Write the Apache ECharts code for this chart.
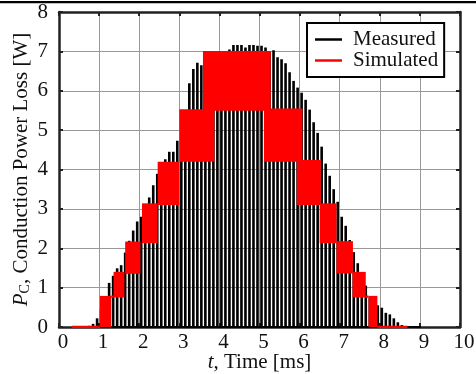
<!DOCTYPE html>
<html>
<head>
<meta charset="utf-8">
<script src="https://cdn.jsdelivr.net/npm/echarts@6/dist/echarts.min.js"></script>
<style>
  html, body { margin: 0; padding: 0; background: #fff; }
  #chart { width: 476px; height: 374px; }
</style>
</head>
<body>
<div id="chart"></div>
<script>
// measured PWM pulses: centre time [ms] and pulse height [W]
const measTime = [
  0.75, 0.85, 0.95, 1.05, 1.15, 1.25, 1.35, 1.45, 1.55, 1.65,
  1.75, 1.85, 1.95, 2.05, 2.15, 2.25, 2.35, 2.45, 2.55, 2.65,
  2.75, 2.85, 2.95, 3.05, 3.15, 3.25, 3.35, 3.45, 3.55, 3.65,
  3.75, 3.85, 3.95, 4.05, 4.15, 4.25, 4.35, 4.45, 4.55, 4.65,
  4.75, 4.85, 4.95, 5.05, 5.15, 5.25, 5.35, 5.45, 5.55, 5.65,
  5.75, 5.85, 5.95, 6.05, 6.15, 6.25, 6.35, 6.45, 6.55, 6.65,
  6.75, 6.85, 6.95, 7.05, 7.15, 7.25, 7.35, 7.45, 7.55, 7.65,
  7.75, 7.85, 7.95, 8.05, 8.15, 8.25, 8.35, 8.45, 8.55, 8.65
]
const measPower = [
  0.03, 0.08, 0.22, 0.45, 0.70, 1.12, 1.30, 1.49, 1.57, 1.89,
  2.19, 2.45, 2.68, 2.80, 3.05, 3.29, 3.60, 3.89, 4.10, 4.26,
  4.45, 4.45, 4.73, 5.10, 5.45, 6.19, 6.55, 6.71, 6.65, 6.80,
  6.90, 6.95, 6.98, 6.95, 6.98, 7.05, 7.16, 7.16, 7.16, 7.10,
  7.16, 7.16, 7.14, 7.14, 7.10, 7.00, 7.03, 6.85, 6.80, 6.70,
  6.47, 6.25, 6.08, 5.95, 5.77, 5.52, 5.20, 4.93, 4.58, 4.15,
  3.84, 3.50, 3.18, 2.80, 2.57, 2.21, 1.90, 1.62, 1.35, 1.05,
  0.75, 0.62, 0.55, 0.49, 0.36, 0.32, 0.22, 0.12, 0.05, 0.02
]

// simulated loss bands: start / end time [ms], low / high level [W]
const simStart = [1.02, 1.30, 1.36, 1.65, 2.07, 2.46, 3.00, 3.59, 5.11, 5.93, 6.50, 6.92, 7.32, 7.65, 7.72]
const simEnd   = [1.30, 1.36, 1.63, 2.03, 2.46, 3.00, 3.875, 5.28, 6.07, 6.53, 6.92, 7.33, 7.65, 7.72, 7.94]
const simLow   = [0.00, 0.74, 0.75, 1.35, 2.13, 3.10, 4.20, 5.49, 4.20, 3.10, 2.13, 1.36, 0.75, 0.74, 0.00]
const simHigh  = [0.79, 0.80, 1.40, 2.17, 3.14, 4.20, 5.53, 7.01, 5.55, 4.24, 3.14, 2.18, 1.40, 0.80, 0.79]

// simulated zero-level stretches and measured baseline
const simZeroLeft = [[0.32, 0], [1.02, 0]]
const simZeroRight = [[7.94, 0], [8.69, 0]]
const measBase = [[0.70, 0], [9.02, 0]]

const xTicks = [0, 1, 2, 3, 4, 5, 6, 7, 8, 9, 10]
const yTicks = [0, 1, 2, 3, 4, 5, 6, 7, 8]

const FONT = 'Liberation Serif'
const PULSE_HALF = 0.0325
const frameColor = '#222'

const chart = echarts.init(document.getElementById('chart'))

function renderPulse(params, api) {
  const a = api.coord([api.value(0) - PULSE_HALF, api.value(1)])
  const b = api.coord([api.value(0) + PULSE_HALF, 0])
  return {
    type: 'rect',
    shape: { x: a[0], y: a[1], width: b[0] - a[0], height: b[1] - a[1] },
    style: { fill: '#000' }
  }
}

function renderBand(params, api) {
  const a = api.coord([api.value(0), api.value(3)])
  const b = api.coord([api.value(1), api.value(2)])
  return {
    type: 'rect',
    shape: { x: a[0], y: a[1], width: b[0] - a[0], height: Math.max(b[1] - a[1], 1) },
    style: { fill: '#ff0000' }
  }
}

const axisLine = { show: true, onZero: false, lineStyle: { color: frameColor, width: 2.5 } }
const axisTick = { show: true, inside: true, length: 4, lineStyle: { color: frameColor, width: 2 } }

chart.setOption({
  animation: false,
  backgroundColor: '#fff',
  textStyle: { fontFamily: FONT },
  grid: { left: 59, right: 16, top: 12, bottom: 47, containLabel: false, outerBoundsMode: 'none' },
  graphic: [
    { type: 'rect', shape: { x: 0, y: 1, width: 476, height: 2.3 }, style: { fill: '#000' } }
  ],
  legend: {
    left: 307,
    top: 23,
    orient: 'vertical',
    backgroundColor: '#fff',
    borderColor: '#000',
    borderWidth: 2,
    borderRadius: 0,
    padding: [6, 6, 6, 8],
    itemGap: 0,
    itemWidth: 27,
    itemHeight: 2.5,
    textStyle: { fontFamily: FONT, fontSize: 21, color: '#111', lineHeight: 20, padding: [0, 0, 0, 6] },
    data: [
      { name: 'Measured', icon: 'rect' },
      { name: 'Simulated', icon: 'rect' }
    ]
  },
  xAxis: [
    {
      type: 'value', min: xTicks[0], max: xTicks[xTicks.length - 1], interval: 1,
      position: 'bottom',
      axisLine, axisTick,
      splitLine: { show: true, lineStyle: { color: '#999', width: 1 } },
      axisLabel: { fontFamily: FONT, fontSize: 21, color: '#111', margin: 5, padding: [0, 0, 0, 8] },
      name: '{i|t}{n|, Time [ms]}',
      nameLocation: 'middle',
      nameGap: 25,
      nameMoveOverlap: false,
      nameTextStyle: {
        rich: {
          i: { fontFamily: FONT, fontSize: 21, fontStyle: 'italic', color: '#111', lineHeight: 21 },
          n: { fontFamily: FONT, fontSize: 21, color: '#111', lineHeight: 21 }
        }
      }
    },
    {
      type: 'value', min: xTicks[0], max: xTicks[xTicks.length - 1], interval: 1,
      position: 'top',
      axisLine, axisTick,
      axisLabel: { show: false },
      splitLine: { show: false }
    }
  ],
  yAxis: [
    {
      type: 'value', min: yTicks[0], max: yTicks[yTicks.length - 1], interval: 1,
      position: 'left',
      axisLine, axisTick,
      splitLine: { show: true, lineStyle: { color: '#999', width: 1 } },
      axisLabel: { fontFamily: FONT, fontSize: 21, color: '#111', margin: 11, padding: [8, 0, 0, 0] },
      name: '{i|P}{s|C}{n|, Conduction Power Loss [W]}',
      nameLocation: 'middle',
      nameGap: 27,
      nameMoveOverlap: false,
      nameTextStyle: {
        rich: {
          i: { fontFamily: FONT, fontSize: 21, fontStyle: 'italic', color: '#111', lineHeight: 21 },
          s: { fontFamily: FONT, fontSize: 14, color: '#111', verticalAlign: 'bottom', lineHeight: 14, padding: [12, 0, 0, 0] },
          n: { fontFamily: FONT, fontSize: 21, color: '#111', lineHeight: 21 }
        }
      }
    },
    {
      type: 'value', min: yTicks[0], max: yTicks[yTicks.length - 1], interval: 1,
      position: 'right',
      axisLine, axisTick,
      axisLabel: { show: false },
      splitLine: { show: false }
    }
  ],
  series: [
    {
      name: 'Measured',
      type: 'custom',
      renderItem: renderPulse,
      itemStyle: { color: '#000' },
      encode: { x: 0, y: 1 },
      data: measTime.map((t, i) => [t, measPower[i]]),
      z: 2
    },
    {
      name: 'baseline',
      type: 'line',
      data: measBase,
      symbol: 'none',
      lineStyle: { color: '#000', width: 2 },
      z: 2
    },
    {
      name: 'Simulated',
      type: 'custom',
      renderItem: renderBand,
      itemStyle: { color: '#ff0000' },
      encode: { x: [0, 1], y: [2, 3] },
      data: simStart.map((s, i) => [s, simEnd[i], simLow[i], simHigh[i]]),
      z: 3
    },
    {
      name: 'simZeroL',
      type: 'line',
      data: simZeroLeft,
      symbol: 'none',
      lineStyle: { color: '#ff0000', width: 2.5 },
      z: 3
    },
    {
      name: 'simZeroR',
      type: 'line',
      data: simZeroRight,
      symbol: 'none',
      lineStyle: { color: '#ff0000', width: 2.5 },
      z: 3
    }
  ]
})
</script>
</body>
</html>
